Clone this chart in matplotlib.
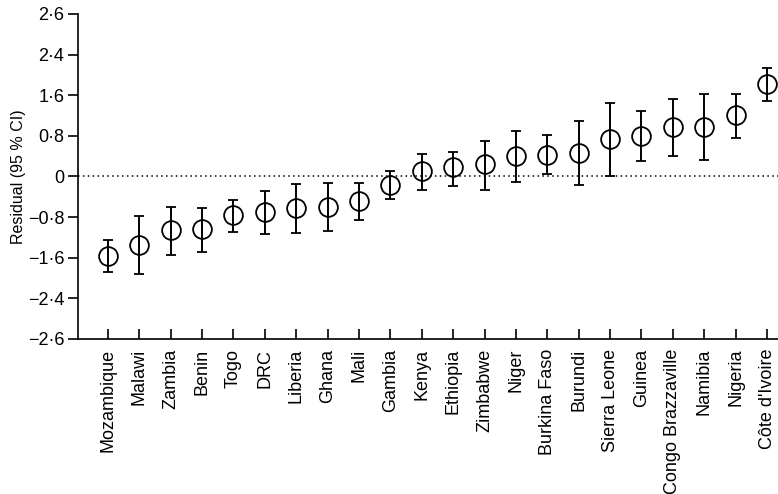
import matplotlib.pyplot as plt
from matplotlib.ticker import FixedLocator, FixedFormatter

plt.rcParams['font.family'] = ['Liberation Sans', 'DejaVu Sans']

countries = ["Mozambique", "Malawi", "Zambia", "Benin", "Togo", "DRC", "Liberia",
             "Ghana", "Mali", "Gambia", "Kenya", "Ethiopia", "Zimbabwe", "Niger",
             "Burkina Faso", "Burundi", "Sierra Leone", "Guinea", "Congo Brazzaville",
             "Namibia", "Nigeria", "Côte d'Ivoire"]
residual = [-1.56, -1.34, -1.05, -1.04, -0.75, -0.69, -0.63, -0.60, -0.48, -0.17,
            0.10, 0.18, 0.24, 0.41, 0.43, 0.47, 0.74, 0.80, 0.97, 0.97, 1.21, 1.83]
ci_low = [-1.89, -1.92, -1.55, -1.49, -1.10, -1.14, -1.11, -1.08, -0.85, -0.45,
          -0.26, -0.18, -0.26, -0.10, 0.04, -0.16, 0.01, 0.31, 0.40, 0.32, 0.75, 1.48]
ci_high = [-1.26, -0.78, -0.60, -0.62, -0.47, -0.28, -0.15, -0.13, -0.13, 0.10,
           0.45, 0.49, 0.70, 0.90, 0.81, 1.09, 1.45, 1.28, 1.53, 1.62, 1.62, 2.13]

# tick positions are evenly spaced, outer labels read 2·6 as in the original
ytick_pos = [-3.2, -2.4, -1.6, -0.8, 0, 0.8, 1.6, 2.4, 3.2]
ytick_lab = ["\u22122\u00b76", "\u22122\u00b74", "\u22121\u00b76", "\u22120\u00b78", "0",
             "0\u00b78", "1\u00b76", "2\u00b74", "2\u00b76"]

x = list(range(len(countries)))
err_lo = [r - l for r, l in zip(residual, ci_low)]
err_hi = [h - r for r, h in zip(residual, ci_high)]

fig = plt.figure(figsize=(7.78, 4.94), dpi=100)
ax = fig.add_axes([0.1003, 0.3138, 0.8997, 0.6579])

ax.axhline(0, color="black", linestyle=(0, (1, 2.2)), linewidth=1.1, zorder=1)
ax.errorbar(x, residual, yerr=[err_lo, err_hi], fmt="o", markersize=13.5,
            markerfacecolor="none", markeredgecolor="black", markeredgewidth=1.3,
            ecolor="black", elinewidth=1.4, capsize=3.5, capthick=1.4, zorder=2)

ax.set_xlim(-0.95, 21.35)
ax.set_ylim(-3.2, 3.2)
ax.yaxis.set_major_locator(FixedLocator(ytick_pos))
ax.yaxis.set_major_formatter(FixedFormatter(ytick_lab))
ax.set_xticks(x)
ax.set_xticklabels(countries, rotation=90, fontsize=13)
ax.tick_params(axis="y", direction="out", length=7, width=1.2, labelsize=13, pad=3)
ax.tick_params(axis="x", direction="in", length=7, width=1.2, pad=7)
ax.set_ylabel("Residual (95 % CI)", fontsize=11.5, labelpad=1.5)

for side in ["top", "right"]:
    ax.spines[side].set_visible(False)
for side in ["left", "bottom"]:
    ax.spines[side].set_linewidth(1.2)

fig.savefig("out.png", dpi=100)
